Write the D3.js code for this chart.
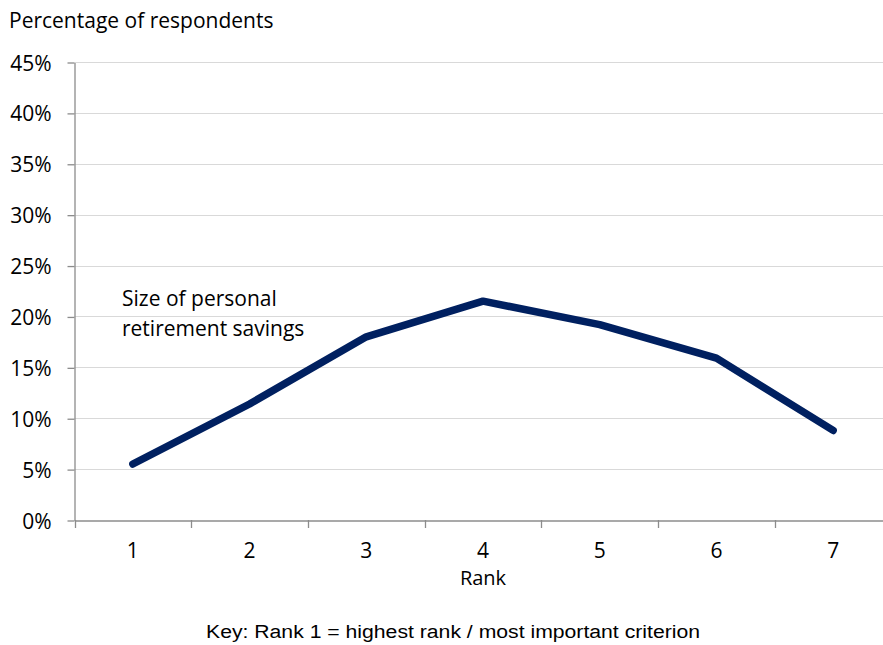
<!DOCTYPE html>
<html><head><meta charset="utf-8">
<script src="https://cdn.jsdelivr.net/npm/d3@7"></script>
<style>body{margin:0;background:#fff}svg{display:block}</style>
</head><body>
<svg id="c" width="883" height="645"></svg>
<script>
const ranks = ["1","2","3","4","5","6","7"];
const values = [5.5, 11.4, 18.0, 21.5, 19.2, 15.9, 8.8];
const yTicks = [0,5,10,15,20,25,30,35,40,45];
const yTitle = "Percentage of respondents";
const xTitle = "Rank";
const seriesLabel = ["Size of personal","retirement savings"];
const keyText = "Key: Rank 1 = highest rank / most important criterion";

const svg = d3.select("#c");
const pLeft = 74.5, pRight = 891.5, pTop = 62, pBottom = 520;
const font = "Open Sans, Calibri, sans-serif";
const x = d3.scaleBand().domain(ranks).range([pLeft, pRight]);
const y = d3.scaleLinear().domain([0,45]).range([pBottom, pTop]);

// gridlines
svg.append("g").selectAll("line").data(yTicks.filter(d=>d>0)).join("line")
  .attr("x1", pLeft).attr("x2", 883).attr("y1", d=>Math.round(y(d))+0.5).attr("y2", d=>Math.round(y(d))+0.5)
  .attr("stroke", "#d9d9d9").attr("stroke-width", 1.2);

// y axis
const ya = svg.append("g").attr("transform", `translate(${pLeft},0.5)`)
  .call(d3.axisLeft(y).tickValues(yTicks).tickFormat(d=>d+"%").tickSize(7).tickSizeOuter(0));
ya.select(".domain").attr("stroke", "#8c8c8c").attr("stroke-width", 1.3);
ya.selectAll(".tick line").attr("stroke", "#8c8c8c").attr("stroke-width", 1.3);
ya.selectAll(".tick text").attr("font-family", font).attr("font-size", 21).attr("fill", "#000")
  .attr("x", -23).attr("dy", "0.36em");

// x axis
const xa = svg.append("g").attr("transform", `translate(0,${pBottom+0.5})`)
  .call(d3.axisBottom(x).tickSize(0).tickSizeOuter(0));
xa.select(".domain").attr("stroke", "#8c8c8c").attr("stroke-width", 1.3);
xa.selectAll(".tick text").attr("font-family", font).attr("font-size", 21).attr("fill", "#000").attr("y", 37).attr("dy", 0);
// boundary ticks
svg.append("g").selectAll("line").data(ranks).join("line")
  .attr("x1", d=>Math.round(x(d))+0.5).attr("x2", d=>Math.round(x(d))+0.5)
  .attr("y1", pBottom).attr("y2", pBottom+8).attr("stroke", "#8c8c8c").attr("stroke-width", 1.3);

// line
const line = d3.line().x((d,i)=>x(ranks[i])+x.bandwidth()/2).y(d=>y(d));
svg.append("path").datum(values).attr("d", line).attr("fill","none")
  .attr("stroke", "#002060").attr("stroke-width", 7.5).attr("stroke-linecap","round").attr("stroke-linejoin","round");

// texts
svg.append("text").attr("x", 9).attr("y", 28).attr("font-family", font).attr("font-size", 21).attr("fill","#000").text(yTitle);
svg.append("text").attr("x", x("4")+x.bandwidth()/2).attr("y", 585).attr("text-anchor","middle")
  .attr("font-family", font).attr("font-size", 20).attr("fill","#000").text(xTitle);
seriesLabel.forEach((t,i)=>svg.append("text").attr("x", 122).attr("y", 306+i*30)
  .attr("font-family", font).attr("font-size", 21).attr("fill","#000").text(t));
svg.append("text").attr("x", 206).attr("y", 638)
  .attr("font-family", "Liberation Sans, Arial, sans-serif").attr("font-size", 18).attr("fill","#000")
  .attr("textLength", 494).attr("lengthAdjust", "spacingAndGlyphs").text(keyText);
</script>
</body></html>
